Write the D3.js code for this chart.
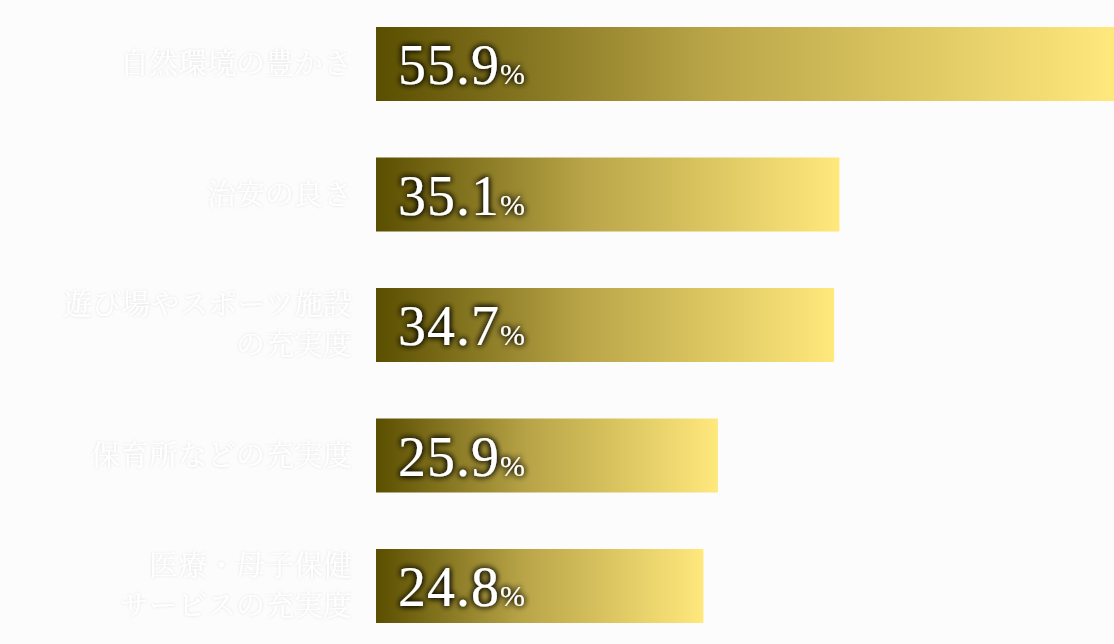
<!DOCTYPE html><html><head><meta charset="utf-8">
<script src="https://cdn.jsdelivr.net/npm/d3@7"></script>
<style>body{margin:0;background:#fcfcfc}</style></head><body>
<svg width="1114" height="644"></svg>
<script>
const categories=[["自然環境の豊かさ"],["治安の良さ"],["遊び場やスポーツ施設","の充実度"],["保育所などの充実度"],["医療・母子保健","サービスの充実度"]];
const values=[55.9,35.1,34.7,25.9,24.8];
const svg=d3.select("svg");
const defs=svg.append("defs");
values.forEach((v,i)=>{const g=defs.append("linearGradient").attr("id","g"+i);
g.append("stop").attr("offset","0%").attr("stop-color","#5a4e00");
g.append("stop").attr("offset","45%").attr("stop-color","#b9a548");
g.append("stop").attr("offset","100%").attr("stop-color","#ffe87c");});
const f=defs.append("filter").attr("id","glow").attr("x","-20%").attr("y","-30%").attr("width","140%").attr("height","160%");
f.append("feGaussianBlur").attr("in","SourceAlpha").attr("stdDeviation",3).attr("result","b");
f.append("feFlood").attr("flood-color","#000");
f.append("feComposite").attr("in2","b").attr("operator","in").attr("result","s");
const m=f.append("feMerge");m.append("feMergeNode").attr("in","s");m.append("feMergeNode").attr("in","s");m.append("feMergeNode").attr("in","SourceGraphic");
const f2=defs.append("filter").attr("id","lg").attr("x","-10%").attr("y","-30%").attr("width","120%").attr("height","160%");
f2.append("feGaussianBlur").attr("in","SourceAlpha").attr("stdDeviation",1.5).attr("result","b");
f2.append("feFlood").attr("flood-color","#000").attr("flood-opacity",0.12);
f2.append("feComposite").attr("in2","b").attr("operator","in").attr("result","s");
const m2=f2.append("feMerge");m2.append("feMergeNode").attr("in","s");m2.append("feMergeNode").attr("in","SourceGraphic");
const x=d3.scaleLinear().domain([0,55.9]).range([376,1114]);
const y=d3.scalePoint().domain(d3.range(values.length)).range([27,549]);
values.forEach((v,i)=>{
 const y0=y(i);
 svg.append("rect").attr("x",x(0)).attr("y",y0).attr("width",x(v)-x(0)).attr("height",74).attr("fill",`url(#g${i})`);
 const t=svg.append("text").attr("x",398).attr("y",y0+57).attr("fill","#fff").attr("font-family","'Liberation Serif',serif").attr("filter","url(#glow)");
 t.append("tspan").attr("font-size",56).attr("letter-spacing",1).text(v.toFixed(1));
 t.append("tspan").attr("font-size",30).text("%");
 const lines=categories[i];
 lines.forEach((l,j)=>{svg.append("text").attr("x",352).attr("text-anchor","end")
  .attr("y",y0+37+10+(j-(lines.length-1)/2)*40).attr("font-size",29).attr("fill","#fff")
  .attr("font-family","'Noto Serif CJK JP','Noto Sans CJK JP',serif").attr("filter","url(#lg)").text(l);});
});
</script></body></html>
